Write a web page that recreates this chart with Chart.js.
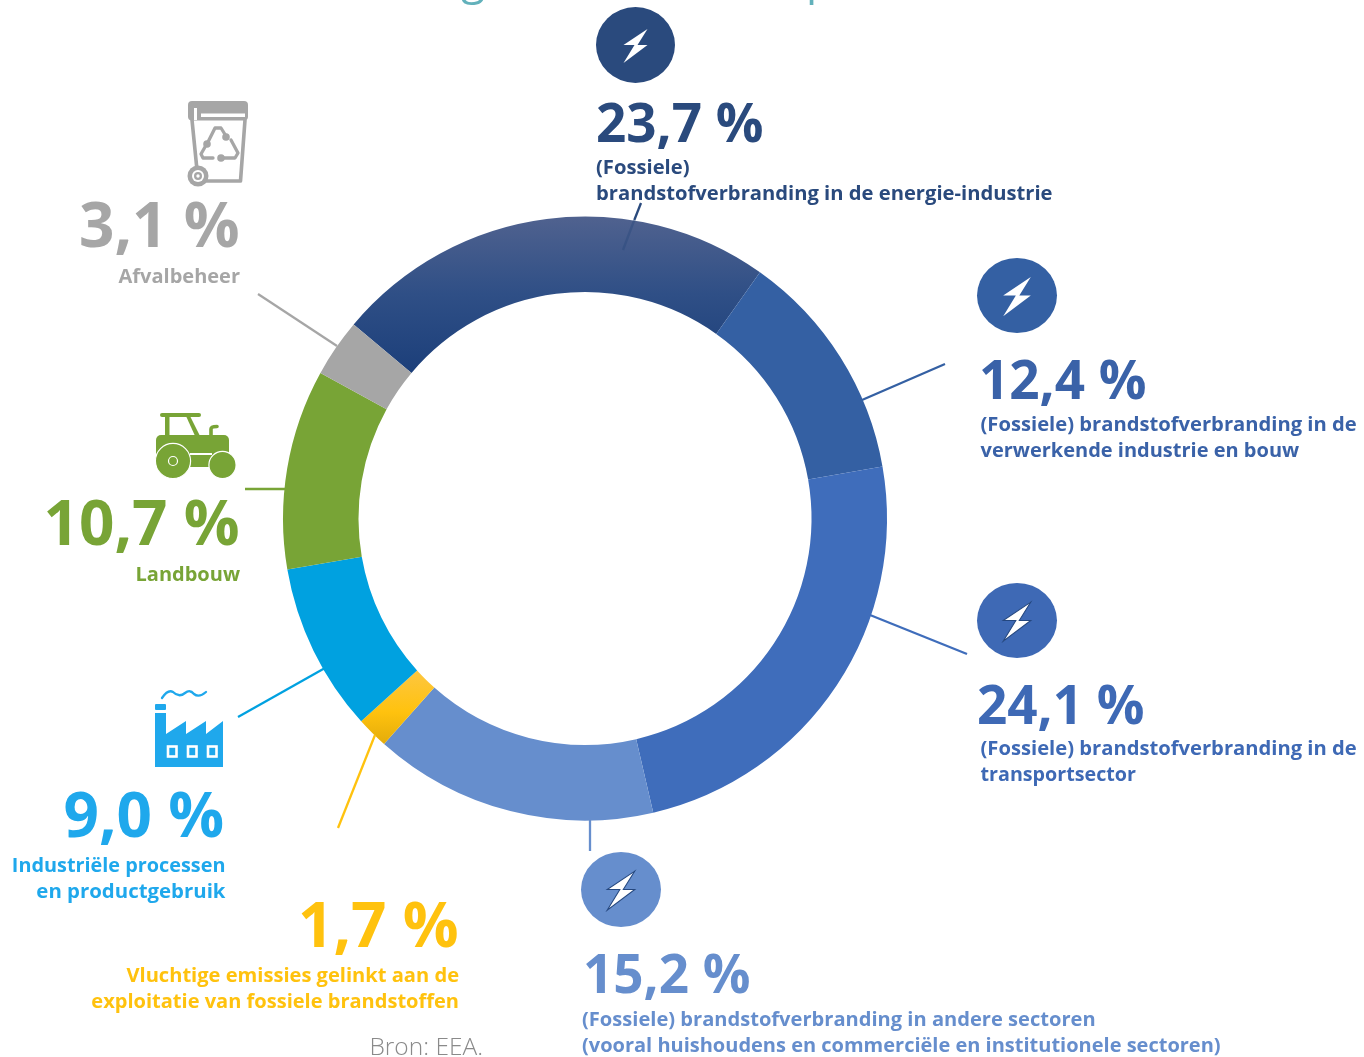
<!DOCTYPE html>
<html><head><meta charset="utf-8">
<style>html,body{margin:0;padding:0;background:#fff;overflow:hidden}canvas{display:block}</style>
<script src="https://cdn.jsdelivr.net/npm/chart.js@4/dist/chart.umd.min.js"></script>
</head><body>
<canvas id="c" width="1364" height="1057"></canvas>
<script>
const categories = [
 "(Fossiele) brandstofverbranding in de energie-industrie",
 "(Fossiele) brandstofverbranding in de verwerkende industrie en bouw",
 "(Fossiele) brandstofverbranding in de transportsector",
 "(Fossiele) brandstofverbranding in andere sectoren (vooral huishoudens en commerciële en institutionele sectoren)",
 "Vluchtige emissies gelinkt aan de exploitatie van fossiele brandstoffen",
 "Industriële processen en productgebruik",
 "Landbouw",
 "Afvalbeheer"];
const values = [23.7,12.4,24.1,15.2,1.7,9.0,10.7,3.1];
const ringColors = ["#24477f","#3460a3","#3f6dbb","#668ecd","#ffc20e","#00a1e0","#78a436","#a6a6a6"];
const textColors = ["#2a4a7d","#3a62a8","#3e69b5","#668ecd","#ffc20e","#1fa8ec","#78a436","#a6a6a6"];
const lineColors = ["#2a4a7d","#3460a3","#3f6dbb","#668ecd","#ffc20e","#00a1e0","#78a436","#a6a6a6"];
const captionLines = [
 ["(Fossiele)","brandstofverbranding in de energie-industrie"],
 ["(Fossiele) brandstofverbranding in de","verwerkende industrie en bouw"],
 ["(Fossiele) brandstofverbranding in de","transportsector"],
 ["(Fossiele) brandstofverbranding in andere sectoren","(vooral huishoudens en commerciële en institutionele sectoren)"],
 ["Vluchtige emissies gelinkt aan de","exploitatie van fossiele brandstoffen"],
 ["Industriële processen","en productgebruik"],
 ["Landbouw"],
 ["Afvalbeheer"]];
const sourceNote = "Bron: EEA.";

// layout of the annotations (not data)
const labelLayout = [
 {x:596,y:142,a:"left", s:53,cs:[20.2,20.2],cx:596,c:[174,200]},
 {x:979,y:399,a:"left", s:53,cs:[20.2,20],cx:980.5,c:[431,457]},
 {x:977,y:724,a:"left", s:53,cs:[20.2,19.7],cx:980.5,c:[755,781]},
 {x:583,y:993,a:"left", s:53,cs:[20.1,20],cx:582,c:[1026,1052]},
 {x:458.5,y:947,a:"right",s:62,cs:[20.1,20.05],cx:459,c:[982,1008]},
 {x:224,y:837,a:"right",s:62,cs:[19.85,20.4],cx:225.5,c:[872,898]},
 {x:239.5,y:545,a:"right",s:62,cs:[20],cx:240,c:[581]},
 {x:239.5,y:247,a:"right",s:62,cs:[20],cx:240,c:[283]}];
const leaders = [[641,203,634.3,220],[862,400,945,364],[870,615,967,654],[590,820,590,851],[375,735,338,828],[325,668,238,717],[245,489,285,489],[258,294,337,346]];
const FONT='"Open Sans"';

function bolt(ctx,cx,cy,s,fill,stroke){
  ctx.save();ctx.translate(cx,cy);ctx.scale(s,s);
  ctx.beginPath();
  ctx.moveTo(12,-16);ctx.lineTo(-12,0);ctx.lineTo(-1,0);ctx.lineTo(-12,18);ctx.lineTo(12,0);ctx.lineTo(2,0);ctx.closePath();
  ctx.fillStyle=fill;ctx.fill();
  if(stroke){ctx.strokeStyle=stroke;ctx.lineWidth=.9;ctx.stroke();}
  ctx.restore();
}
function circleIcon(ctx,cx,cy,rx,ry,col,s,stroke){
  ctx.beginPath();ctx.ellipse(cx,cy,rx,ry,0,0,Math.PI*2);ctx.fillStyle=col;ctx.fill();
  bolt(ctx,cx,cy,s,"#fff",stroke);
}
function roundRect(ctx,x,y,w,h,r){ctx.beginPath();ctx.roundRect(x,y,w,h,r);}
function binIcon(ctx){
  const c="#a6a6a6";ctx.save();ctx.strokeStyle=c;ctx.fillStyle=c;ctx.lineJoin="round";ctx.lineCap="round";
  roundRect(ctx,188,101,60,19.5,4);ctx.fill();
  ctx.fillStyle="#fff";ctx.fillRect(201,113.5,44,3.5);ctx.fillRect(194,108,3,12);ctx.fillStyle=c;
  ctx.lineWidth=3.6;ctx.beginPath();ctx.moveTo(192,120);ctx.lineTo(197,170);ctx.moveTo(245,120);ctx.lineTo(240.5,181);ctx.lineTo(205,181);ctx.stroke();
  ctx.beginPath();ctx.arc(198,176,10.5,0,7);ctx.fill();
  ctx.beginPath();ctx.arc(198,176,6,0,7);ctx.fillStyle="#fff";ctx.fill();
  ctx.beginPath();ctx.arc(198,176,4,0,7);ctx.fillStyle=c;ctx.fill();
  ctx.beginPath();ctx.arc(198,176,1.7,0,7);ctx.fillStyle="#fff";ctx.fill();
  // recycle triangle
  ctx.lineWidth=3.3;ctx.beginPath();
  ctx.moveTo(207,144);ctx.lineTo(215,128);ctx.lineTo(221,128);ctx.lineTo(226,136);
  ctx.moveTo(231,140);ctx.lineTo(238,153);ctx.lineTo(235,158);ctx.lineTo(224,158);
  ctx.moveTo(213,158);ctx.lineTo(203,158);ctx.lineTo(201,154);ctx.lineTo(205,147);ctx.stroke();
  ctx.fillStyle=c;
  [[226,137],[207,144],[221,158]].forEach(p=>{ctx.beginPath();ctx.arc(p[0],p[1],3.8,0,7);ctx.fill();});
  ctx.restore();
}
function tractorIcon(ctx){
  const c="#78a436";ctx.save();ctx.fillStyle=c;ctx.strokeStyle=c;
  roundRect(ctx,160,413,41,4,2);ctx.fill();
  ctx.fillRect(165,416,4.5,21);
  ctx.beginPath();ctx.moveTo(186,416);ctx.lineTo(190,416);ctx.lineTo(200.5,437);ctx.lineTo(195.5,437);ctx.closePath();ctx.fill();
  ctx.lineWidth=3.6;ctx.lineCap="round";ctx.beginPath();ctx.moveTo(211,437);ctx.lineTo(211,429);ctx.quadraticCurveTo(211,426.5,217,426.5);ctx.stroke();
  roundRect(ctx,156,435,73,23,5);ctx.fill();
  ctx.strokeStyle="#fff";ctx.lineWidth=1.2;
  ctx.fillStyle="#fff";ctx.fillRect(190,453,22,2);
  ctx.fillStyle=c;ctx.fillRect(190,455,22,12);
  ctx.beginPath();ctx.arc(173,461,17.6,0,7);ctx.fill();ctx.stroke();
  ctx.beginPath();ctx.arc(222.5,465,13.6,0,7);ctx.fill();ctx.stroke();
  ctx.beginPath();ctx.arc(173,461,4.5,0,7);ctx.stroke();
  ctx.restore();
}
function factoryIcon(ctx){
  const c="#1fa8ec";ctx.save();ctx.fillStyle=c;
  roundRect(ctx,155,704,11,6,1);ctx.fill();
  ctx.beginPath();
  [[155,713],[166,713],[166,734],[186,721],[186,734],[206,721],[206,734],[223,721],[223,767],[155,767]].forEach((p,i)=>i?ctx.lineTo(p[0],p[1]):ctx.moveTo(p[0],p[1]));
  ctx.closePath();ctx.fill();
  ctx.strokeStyle="#fff";ctx.lineWidth=2.6;
  [168,188,208].forEach(x=>ctx.strokeRect(x,746.5,8.5,10));
  ctx.strokeStyle=c;ctx.lineWidth=2.3;ctx.lineCap="round";ctx.beginPath();
  ctx.moveTo(162,698);ctx.quadraticCurveTo(168,689,173,692);ctx.quadraticCurveTo(179,698,185,693);ctx.quadraticCurveTo(190,689,194,694);ctx.quadraticCurveTo(199,698,206,692);
  ctx.stroke();ctx.restore();
}
const annotations={id:"annotations",afterDraw(chart){
  const ctx=chart.ctx;ctx.save();
  // cropped heading remains
  ctx.fillStyle="#62b1bb";ctx.textAlign="left";ctx.textBaseline="alphabetic";ctx.font='400 44px '+FONT;
  ctx.fillText("g",461,-6);ctx.fillText("p",806,-6);
  ctx.lineWidth=2.3;
  leaders.forEach((l,i)=>{ctx.beginPath();ctx.moveTo(l[0],l[1]);ctx.lineTo(l[2],l[3]);ctx.strokeStyle=lineColors[i];ctx.stroke();});
  // faint continuation of the top leader across the ring
  ctx.beginPath();ctx.moveTo(634.3,220);ctx.lineTo(623,250);ctx.strokeStyle="rgba(42,74,125,.45)";ctx.stroke();
  circleIcon(ctx,635.5,45,39.5,38,"#2a4a7d",1);
  circleIcon(ctx,1017,295.5,40,37.5,"#3460a3",1.15);
  circleIcon(ctx,1017,620.5,40,37.5,"#3e69b5",1.15,"#24477f");
  circleIcon(ctx,621,889.5,40,37.5,"#668ecd",1.15,"#24477f");
  binIcon(ctx);tractorIcon(ctx);factoryIcon(ctx);
  values.forEach((v,i)=>{
    const L=labelLayout[i];
    ctx.fillStyle=textColors[i];ctx.textAlign=L.a;
    ctx.font='700 '+L.s+'px '+FONT;
    ctx.fillText(v.toFixed(1).replace(".",",")+" %",L.x,L.y);
    captionLines[i].forEach((t,j)=>{ctx.font='700 '+L.cs[j]+'px '+FONT;ctx.fillText(t,L.cx,L.c[j]);});
  });
  ctx.fillStyle="#8a8a8a";ctx.textAlign="right";ctx.font='300 24.5px '+FONT;
  ctx.fillText(sourceNote,483,1055);
  ctx.restore();
}};
const cv=document.getElementById("c");
const g0=cv.getContext("2d");
const gradEnergy=g0.createLinearGradient(0,216,0,372);
gradEnergy.addColorStop(0,"#50628f");gradEnergy.addColorStop(.5,"#2f4f86");gradEnergy.addColorStop(1,"#1c3f7a");
const gradYellow=g0.createLinearGradient(0,672,0,745);
gradYellow.addColorStop(0,"#fdc63f");gradYellow.addColorStop(.55,"#ffc20e");gradYellow.addColorStop(1,"#e3ab0a");
const fills=ringColors.slice();fills[0]=gradEnergy;fills[4]=gradYellow;
new Chart(cv,{type:"doughnut",
 data:{labels:categories,datasets:[{data:values,backgroundColor:fills,borderWidth:0,hoverOffset:0}]},
 options:{responsive:false,animation:false,cutout:"75%",rotation:-50,
  layout:{padding:{left:283,right:477,top:216.5,bottom:236.5}},
  plugins:{legend:{display:false},tooltip:{enabled:false},title:{display:false}}},
 plugins:[annotations]});
</script>
</body></html>
